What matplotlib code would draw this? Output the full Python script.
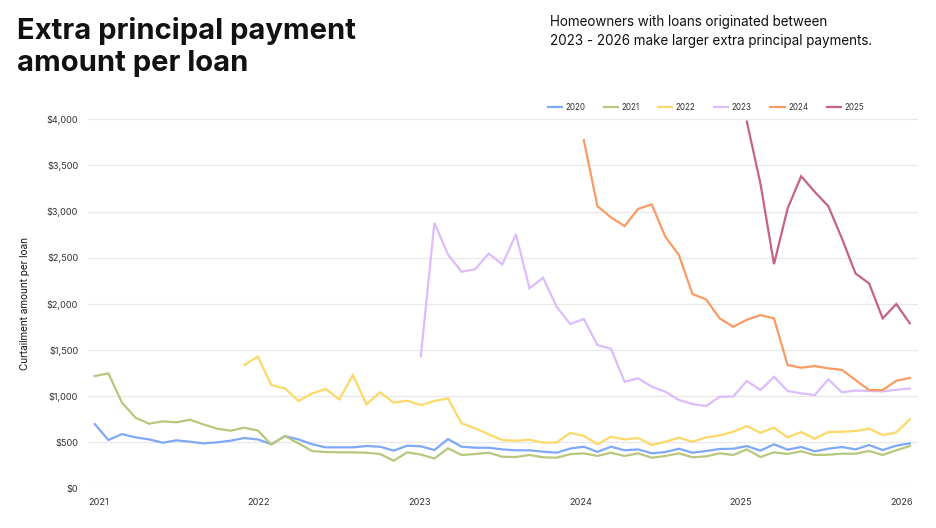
import numpy as np
import matplotlib
matplotlib.use("Agg")
import matplotlib.pyplot as plt

plt.rcParams['font.family'] = ['Inter', 'DejaVu Sans']

# -----------------------------
# Data: monthly, index 0 = Jan 2021 ... 60 = Jan 2026
# -----------------------------
year_labels = ["2021", "2022", "2023", "2024", "2025", "2026"]
series_names = ["2020", "2021", "2022", "2023", "2024", "2025"]
start_month = [0, 0, 11, 24, 36, 48]

vals_2020 = [696, 523, 588, 552, 530, 494, 520, 505, 487, 498, 516, 545,
             530, 478, 566, 530, 477, 444, 444, 444, 458, 451, 408, 462,
             455, 415, 534, 451, 440, 440, 422, 412, 412, 397, 386, 431,
             451, 395, 451, 412, 422, 379, 393, 429, 386, 404, 426, 429,
             458, 408, 477, 419, 448, 401, 429, 448, 422, 469, 415, 462,
             487]
vals_2021 = [1217, 1246, 928, 765, 700, 726, 715, 743, 693, 646, 624, 657,
             626, 475, 566, 487, 404, 393, 390, 390, 386, 372, 299, 390,
             366, 323, 433, 361, 372, 386, 342, 339, 361, 336, 332, 370,
             379, 351, 386, 350, 379, 332, 350, 379, 336, 346, 379, 361,
             422, 339, 390, 372, 401, 361, 364, 375, 375, 404, 361, 412,
             458]
vals_2022 = [1336, 1428, 1119, 1083, 946, 1029, 1076, 964, 1227, 910, 1040, 928,
             949, 902, 946, 975, 704, 650, 585, 523, 516, 527, 494, 498,
             600, 568, 478, 559, 530, 545, 469, 505, 548, 505, 552, 574,
             613, 675, 602, 657, 552, 610, 537, 610, 613, 621, 646, 577,
             606, 747]
vals_2023 = [1433, 2877, 2535, 2347, 2375, 2545, 2426, 2755, 2167, 2282, 1967, 1780,
             1836, 1553, 1513, 1155, 1192, 1101, 1047, 957, 913, 892, 992, 995,
             1164, 1065, 1209, 1055, 1029, 1011, 1181, 1040, 1060, 1055, 1050, 1068,
             1081]
vals_2024 = [3774, 3059, 2936, 2842, 3029, 3077, 2726, 2528, 2105, 2048, 1842, 1751,
             1827, 1877, 1842, 1336, 1307, 1325, 1300, 1284, 1173, 1065, 1065, 1166,
             1196]
vals_2025 = [3975, 3304, 2430, 3033, 3383, 3213, 3058, 2708, 2329, 2221, 1842, 1997,
             1788]

all_vals = [vals_2020, vals_2021, vals_2022, vals_2023, vals_2024, vals_2025]
colors = ["#7ea8f8", "#b7c77c", "#fdd868", "#dcbcfb", "#fb9a62", "#c4647e"]

fig = plt.figure(figsize=(9.36, 5.28), dpi=100)
ax = fig.add_axes([88 / 936, 1 - 488.3 / 528, 830 / 936, (488.3 - 119.3) / 528])

for name, start, vals, col in zip(series_names, start_month, all_vals, colors):
    x = np.arange(start, start + len(vals))
    ax.plot(x, vals, color=col, lw=1.6, label=name, solid_joinstyle='miter',
            clip_on=False)

ax.set_xlim(-0.5, 60.6)
ax.set_ylim(0, 4000)

ax.set_yticks(np.arange(0, 4001, 500))
ax.set_yticklabels([f"${v:,}" for v in range(0, 4001, 500)])
ax.set_xticks(np.arange(6) * 11.83 + 0.25)
ax.set_xticklabels(year_labels)

ax.tick_params(axis='both', length=0, labelsize=6.6, colors="#333333")
ax.tick_params(axis='y', pad=7)
ax.tick_params(axis='x', pad=7)
ax.grid(axis='y', color="#e8e8e8", lw=0.9)
ax.set_axisbelow(True)
for s in ax.spines.values():
    s.set_visible(False)

ax.set_ylabel("Curtailment amount per loan", fontsize=7.2, color="#111111",
              labelpad=12)

fig.legend(loc='center', bbox_to_anchor=(706 / 936, 1 - 107 / 528), ncol=6,
           frameon=False, fontsize=5.8, handlelength=1.75, handletextpad=0.45,
           columnspacing=2.3, labelcolor="#333333")

fig.text(17 / 936, 1 - 17 / 528, "Extra principal payment\namount per loan",
         fontsize=21, fontweight='bold', va='top', ha='left', color="#111111",
         linespacing=1.26)
fig.text(550 / 936, 1 - 15 / 528,
         "Homeowners with loans originated between\n2023 - 2026 make larger extra principal payments.",
         fontsize=9.7, va='top', ha='left', color="#111111", linespacing=1.5)

fig.savefig("out.png", dpi=100)
